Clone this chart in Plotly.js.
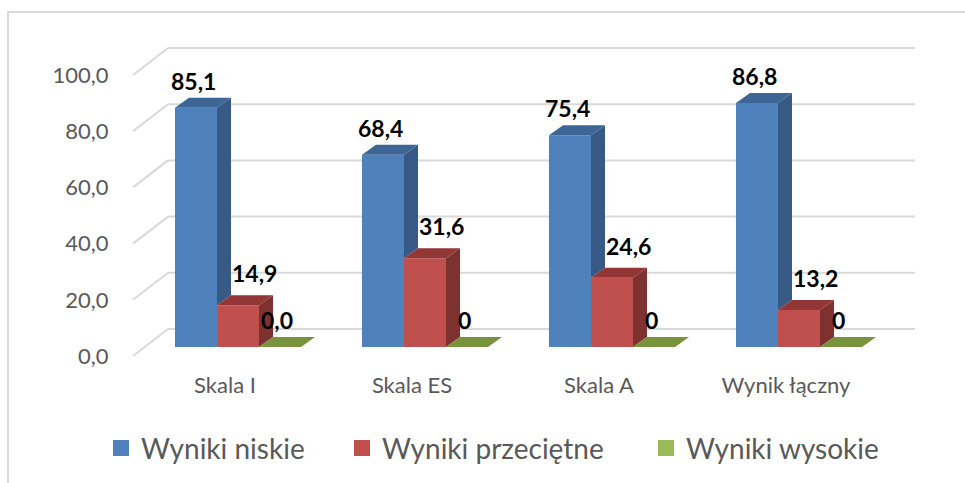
<!DOCTYPE html>
<html>
<head>
<meta charset="utf-8">
<script src="https://cdn.plot.ly/plotly-3.0.1.min.js"></script>
<style>
  html, body { margin: 0; padding: 0; background: #ffffff; overflow: hidden; }
  #wrap { position: relative; width: 965px; height: 483px; }
  #chart { position: absolute; left: 0; top: 0; width: 965px; height: 483px; }
  #frame { position: absolute; left: 7px; top: 11px; width: 1200px; height: 1200px;
           border-left: 2px solid #d9d9d9; border-top: 2px solid #d9d9d9; pointer-events: none; }
</style>
</head>
<body>
<div id="wrap">
  <div id="frame"></div>
  <div id="chart"></div>
</div>
<script>
// ---- data ----
const categories = ["Skala I", "Skala ES", "Skala A", "Wynik łączny"];
const seriesNames = ["Wyniki niskie", "Wyniki przeciętne", "Wyniki wysokie"];
const niskie = [85.1, 68.4, 75.4, 86.8];
const przecietne = [14.9, 31.6, 24.6, 13.2];
const wysokie = [0, 0, 0, 0];
const labelsNiskie = ["85,1", "68,4", "75,4", "86,8"];
const labelsPrzecietne = ["14,9", "31,6", "24,6", "13,2"];
const labelsWysokie = ["0,0", "0", "0", "0"];
const yTicks = [0, 20, 40, 60, 80, 100];

// ---- style / geometry ----
const frontColors = ["#4f81bd", "#c0504d", "#9bbb59"];
const sideColors  = ["#365a85", "#7e3230", "#5f7530"];
const topColors   = ["#3d6696", "#923735", "#77933c"];
const W = 965, H = 483;
const M = {l: 133, r: 50, t: 30, b: 113, autoexpand: false};
const plotW = W - M.l - M.r, plotH = H - M.t - M.b;
const pxX = 187, pxY = 2.81;
const xmin = -(238 - M.l) / pxX;
const xRange = [xmin, xmin + plotW / pxX];
const yBarsRange = [-(H - M.b - 347) / pxY, -(H - M.b - 347) / pxY + plotH / pxY];
const yLabRange  = [-(H - M.b - 356) / pxY, -(H - M.b - 356) / pxY + plotH / pxY];
const yGridRange = [-(H - M.b - 329) / pxY, -(H - M.b - 329) / pxY + plotH / pxY];
const bargap = 0.326;
const bw = (1 - bargap) / 3;
const dX = 14 / pxX, dY = 10 / pxY;
const legendLeftPx = [101, 342, 646];

const xIdx = categories.map((c, i) => i);
const series = [niskie, przecietne, wysokie];

const traces = [];
// front faces (bars)
series.forEach((vals, k) => {
  traces.push({
    type: "bar", x: xIdx, y: vals, name: seriesNames[k],
    marker: {color: frontColors[k], line: {width: 0}},
    showlegend: false, hoverinfo: "skip"
  });
});
// 3D side and top faces, computed from data
series.forEach((vals, k) => {
  const sx = [], sy = [], tx = [], ty = [];
  vals.forEach((v, i) => {
    const c = i + (k - 1) * bw;
    const xr = c + bw / 2, xl = c - bw / 2;
    const next = k < 2 ? series[k + 1][i] : 0;
    const base = Math.min(next, v);
    sx.push(xr, xr + dX, xr + dX, xr, xr, null);
    sy.push(base, base + dY, v + dY, v, base, null);
    tx.push(xl, xr, xr + dX, xl + dX, xl, null);
    ty.push(v, v, v + dY, v + dY, v, null);
  });
  traces.push({type: "scatter", mode: "lines", x: sx, y: sy, fill: "toself",
    fillcolor: sideColors[k], line: {width: 0, color: sideColors[k]},
    showlegend: false, hoverinfo: "skip"});
  traces.push({type: "scatter", mode: "lines", x: tx, y: ty, fill: "toself",
    fillcolor: topColors[k], line: {width: 0, color: topColors[k]},
    showlegend: false, hoverinfo: "skip"});
});
// legend entries (one legend per series so spacing can match)
const legendIds = ["legend", "legend2", "legend3"];
seriesNames.forEach((n, k) => {
  traces.push({type: "scatter", mode: "markers", x: [null], y: [null], name: n,
    legend: legendIds[k],
    marker: {symbol: "square", size: 16, color: frontColors[k]}, hoverinfo: "skip"});
});
// invisible traces to carry the tick-label and grid axes
traces.push({type: "scatter", mode: "markers", x: [null], y: [null], yaxis: "y2",
  showlegend: false, hoverinfo: "skip"});
traces.push({type: "scatter", mode: "markers", x: [null], y: [null], yaxis: "y3",
  showlegend: false, hoverinfo: "skip"});

// gridlines (back wall) and floor diagonals, from tick values
const shapes = [];
const frac = (v, r) => (v - r[0]) / (r[1] - r[0]);
yTicks.forEach(t => {
  shapes.push({type: "line", layer: "below", xref: "paper", yref: "y3",
    x0: 35 / plotW, x1: 1, y0: t, y1: t, line: {color: "#d9d9d9", width: 2}});
  shapes.push({type: "line", layer: "below", xref: "paper", yref: "paper",
    x0: 0, x1: 35 / plotW, y0: frac(t, yLabRange), y1: frac(t, yGridRange),
    line: {color: "#d9d9d9", width: 2}});
});

// data labels
const annotations = [];
const lbls = [labelsNiskie, labelsPrzecietne, labelsWysokie];
const xs = [-2, 16, -3], ys = [27, 32, 27];
series.forEach((vals, k) => {
  vals.forEach((v, i) => {
    annotations.push({x: i + (k - 1) * bw, y: v, xref: "x", yref: "y",
      text: lbls[k][i], showarrow: false, xanchor: "center", yanchor: "middle",
      xshift: xs[k], yshift: ys[k],
      font: {family: "Lato, 'Open Sans', sans-serif", size: 23, color: "#000000", weight: "bold"}});
  });
});

const layout = {
  width: W, height: H,
  margin: M,
  paper_bgcolor: "rgba(0,0,0,0)", plot_bgcolor: "rgba(0,0,0,0)",
  barmode: "group", bargap: bargap, bargroupgap: 0,
  separators: ", ",
  font: {family: "Lato, 'Open Sans', sans-serif", color: "#595959"},
  xaxis: {range: xRange, tickvals: xIdx, ticktext: categories, showgrid: false,
    zeroline: false, showline: false, ticks: "", ticklabelshift: -13,
    tickfont: {size: 22, color: "#595959"}},
  yaxis: {range: yBarsRange, visible: false, fixedrange: true},
  yaxis2: {range: yLabRange, overlaying: "y", side: "left", tickvals: yTicks,
    tickformat: ".1f", showgrid: false, zeroline: false, showline: false,
    ticks: "outside", ticklen: 19, tickcolor: "rgba(0,0,0,0)",
    tickfont: {size: 22, color: "#595959"}},
  yaxis3: {range: yGridRange, overlaying: "y", visible: false},
  showlegend: true,
  shapes: shapes,
  annotations: annotations
};
legendIds.forEach((id, k) => {
  layout[id] = {orientation: "h", x: (legendLeftPx[k] - M.l) / plotW, xanchor: "left",
    y: -0.23, yanchor: "middle", itemsizing: "trace",
    font: {size: 28, color: "#595959"}, bgcolor: "rgba(0,0,0,0)"};
});

Plotly.newPlot("chart", traces, layout, {displayModeBar: false, staticPlot: true});
</script>
</body>
</html>
